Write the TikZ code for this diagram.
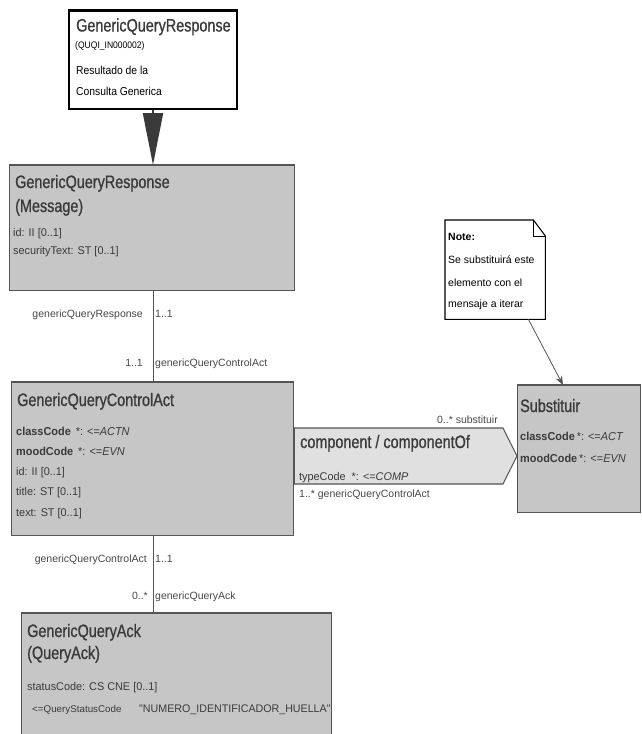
\documentclass[tikz,border=0pt]{standalone}
\usepackage{fontspec}
\setmainfont{Liberation Sans}
\newfontfamily\tfont[FakeStretch=0.8,FakeBold=0.9]{Liberation Sans}
\newfontfamily\afont[FakeStretch=0.97]{Liberation Sans}
\newfontfamily\bfont[FakeStretch=0.95]{Liberation Sans}
\newfontfamily\cfont[FakeStretch=0.9]{Liberation Sans}
\usetikzlibrary{arrows.meta,calc}
\definecolor{boxfill}{HTML}{C6C6C6}
\definecolor{hexfill}{HTML}{E0E0E0}
\definecolor{boxline}{HTML}{555555}
\definecolor{txtcol}{HTML}{3A3A3A}
\definecolor{lblcol}{HTML}{484848}
\definecolor{arrcol}{HTML}{3A3A3A}
\tikzset{
  cls/.style={draw=boxline, fill=boxfill, line width=1.2pt, inner sep=0pt, anchor=north west},
  topbox/.style={draw=black, fill=white, line width=1.8pt, inner sep=0pt, anchor=north west},
  ttl/.style={anchor=base west, inner sep=0pt, text=txtcol, font=\tfont\fontsize{18}{20}\selectfont},
  att/.style={anchor=base west, inner sep=0pt, text=txtcol, font=\afont\fontsize{11.2}{13}\selectfont},
  batt/.style={anchor=base west, inner sep=0pt, text=txtcol, font=\bfont\bfseries\fontsize{11.5}{13}\selectfont},
  lbl/.style={inner sep=0pt, text=lblcol, font=\fontsize{10.5}{12}\selectfont},
  conn/.style={draw=boxline, line width=0.9pt},
  notetxt/.style={anchor=base west, inner sep=0pt, text=black, font=\fontsize{10.5}{12}\selectfont},
}
\begin{document}
\begin{tikzpicture}[x=1pt,y=-1pt]
\useasboundingbox (0,0) rectangle (641,734);
\clip (0,0) rectangle (641,734);
\fill[white] (0,0) rectangle (641,734);
\coordinate (cx) at (153,0);

% top box
\node[topbox, minimum width=168pt, minimum height=98pt] (top) at (68,10) {};
\draw[line width=3pt, black] (top.north west) -- (top.north east);
\node[ttl] (topT) at (76,31.5) {GenericQueryResponse};
\node[anchor=base west, inner sep=0pt, font=\cfont\fontsize{9.5}{11}\selectfont] (topS) at (75,48) {(QUQI\_IN000002)};
\node[anchor=base west, inner sep=0pt, font=\cfont\fontsize{11.5}{13}\selectfont] (topR) at (76,74) {Resultado de la};
\node[anchor=base west, inner sep=0pt, font=\cfont\fontsize{11.5}{13}\selectfont] (topC) at (76,95) {Consulta Generica};

% message box
\node[cls, minimum width=285pt, minimum height=125pt] (msg) at (9,165) {};
\draw[line width=2pt, boxline] (msg.north west) -- (msg.north east);
\node[ttl] (msgT1) at (15,188) {GenericQueryResponse};
\node[ttl] (msgT2) at (15,212) {(Message)};
\node[att] (msgA1) at (13,236) {id: II [0..1]};
\node[att] (msgA2) at (13,254) {securityText: ST [0..1]};

% arrow top -> message
\draw[line width=2pt, arrcol, -{Triangle[length=52pt,width=20pt]}] (top.south -| cx) -- (msg.north -| cx);

% control act box
\node[cls, minimum width=282pt, minimum height=153pt] (ctl) at (11,382) {};
\draw[line width=2pt, boxline] (ctl.north west) -- (ctl.north east);
\node[ttl] (ctlT) at (17,406) {GenericQueryControlAct};
\node[batt] (ctlA1) at (16,435) {classCode\mdseries\ \,*: <=\itshape ACTN};
\node[batt] (ctlA2) at (16,455) {moodCode\mdseries\ \,*: <=\itshape EVN};
\node[att] (ctlA3) at (16,475) {id: II [0..1]};
\node[att] (ctlA4) at (16,495) {title: ST [0..1]};
\node[att] (ctlA5) at (16,516) {text: ST [0..1]};

% msg -> ctl
\draw[conn] (msg.south -| cx) -- (ctl.north -| cx);
\node[lbl, anchor=base east] (l1) at (143,317) {genericQueryResponse};
\node[lbl, anchor=base west] (l2) at (155,317) {1..1};
\node[lbl, anchor=base east] (l3) at (143,366) {1..1};
\node[lbl, anchor=base west] (l4) at (155,366) {genericQueryControlAct};

% ack box
\node[cls, minimum width=310pt, minimum height=140pt] (ack) at (21,613) {};
\draw[line width=2pt, boxline] (ack.north west) -- (ack.north east);
\node[ttl] (ackT1) at (27,637) {GenericQueryAck};
\node[ttl] (ackT2) at (27,659) {(QueryAck)};
\node[att] (ackA1) at (27,690) {statusCode: CS CNE [0..1]};
\begin{scope}
\clip (ack.north west) rectangle ([xshift=-1pt]ack.south east);
\node[anchor=base west, inner sep=0pt, text=txtcol, font=\fontsize{9.8}{12}\selectfont] (ackA2) at (32,712) {<=QueryStatusCode};
\node[anchor=base west, inner sep=0pt, text=txtcol, font=\afont\fontsize{11}{12}\selectfont] (ackA3) at (139,712) {"NUMERO\_IDENTIFICADOR\_HUELLA"};
\end{scope}

% ctl -> ack
\draw[conn] (ctl.south -| cx) -- (ack.north -| cx);
\node[lbl, anchor=base east] (l5) at (147,562) {genericQueryControlAct};
\node[lbl, anchor=base west] (l6) at (155,562) {1..1};
\node[lbl, anchor=base east] (l7) at (148,599) {0..*};
\node[lbl, anchor=base west] (l8) at (155,599) {genericQueryAck};

% Substituir box
\node[cls, minimum width=123pt, minimum height=127pt] (sub) at (517,385) {};
\draw[line width=2pt, boxline] (sub.north west) -- (sub.north east);
\node[ttl] (subT) at (520,412) {Substituir};
\node[batt] (subA1) at (520,440) {classCode\mdseries\,*: <=\itshape ACT};
\node[batt] (subA2) at (520,462) {moodCode\mdseries\,*: <=\itshape EVN};

% component hexagon
\draw[draw=boxline, fill=hexfill, line width=1.1pt] (ctl.east |- 0,428) -- (503,428) -- (sub.west |- 0,456) -- (503,484) -- (ctl.east |- 0,484) -- cycle;
\node[lbl, anchor=base east] (h0) at (498,423) {0..* substituir};
\node[ttl] (hT) at (300,448) {component / componentOf};
\node[att] (hA) at (299,480) {typeCode\ \ *: <=\itshape COMP};
\node[lbl, anchor=base west] (h1) at (299,497) {1..* genericQueryControlAct};

% note
\node[minimum width=100pt, minimum height=99pt, inner sep=0pt, anchor=north west] (note) at (445,220) {};
\draw[black, line width=1.1pt, fill=white] (note.north west) -- ([xshift=-12pt]note.north east) -- ([yshift=-16pt]note.north east) -- (note.south east) -- (note.south west) -- cycle;
\draw[black, line width=0.7pt] ([xshift=-12pt]note.north east) -- ([xshift=-12pt,yshift=-16pt]note.north east) -- ([yshift=-16pt]note.north east);
\node[notetxt, font=\bfseries\fontsize{10.5}{12}\selectfont] (n1) at (448,240) {Note:};
\node[notetxt] (n2) at (448,263) {Se substituirá este};
\node[notetxt] (n3) at (448,286) {elemento con el};
\node[notetxt] (n4) at (448,307) {mensaje a iterar};
\draw[boxline, line width=0.8pt, -{Stealth[length=9pt,width=7pt]}] ([xshift=-17pt]note.south east) -- ([xshift=46pt]sub.north west);
\end{tikzpicture}
\end{document}
